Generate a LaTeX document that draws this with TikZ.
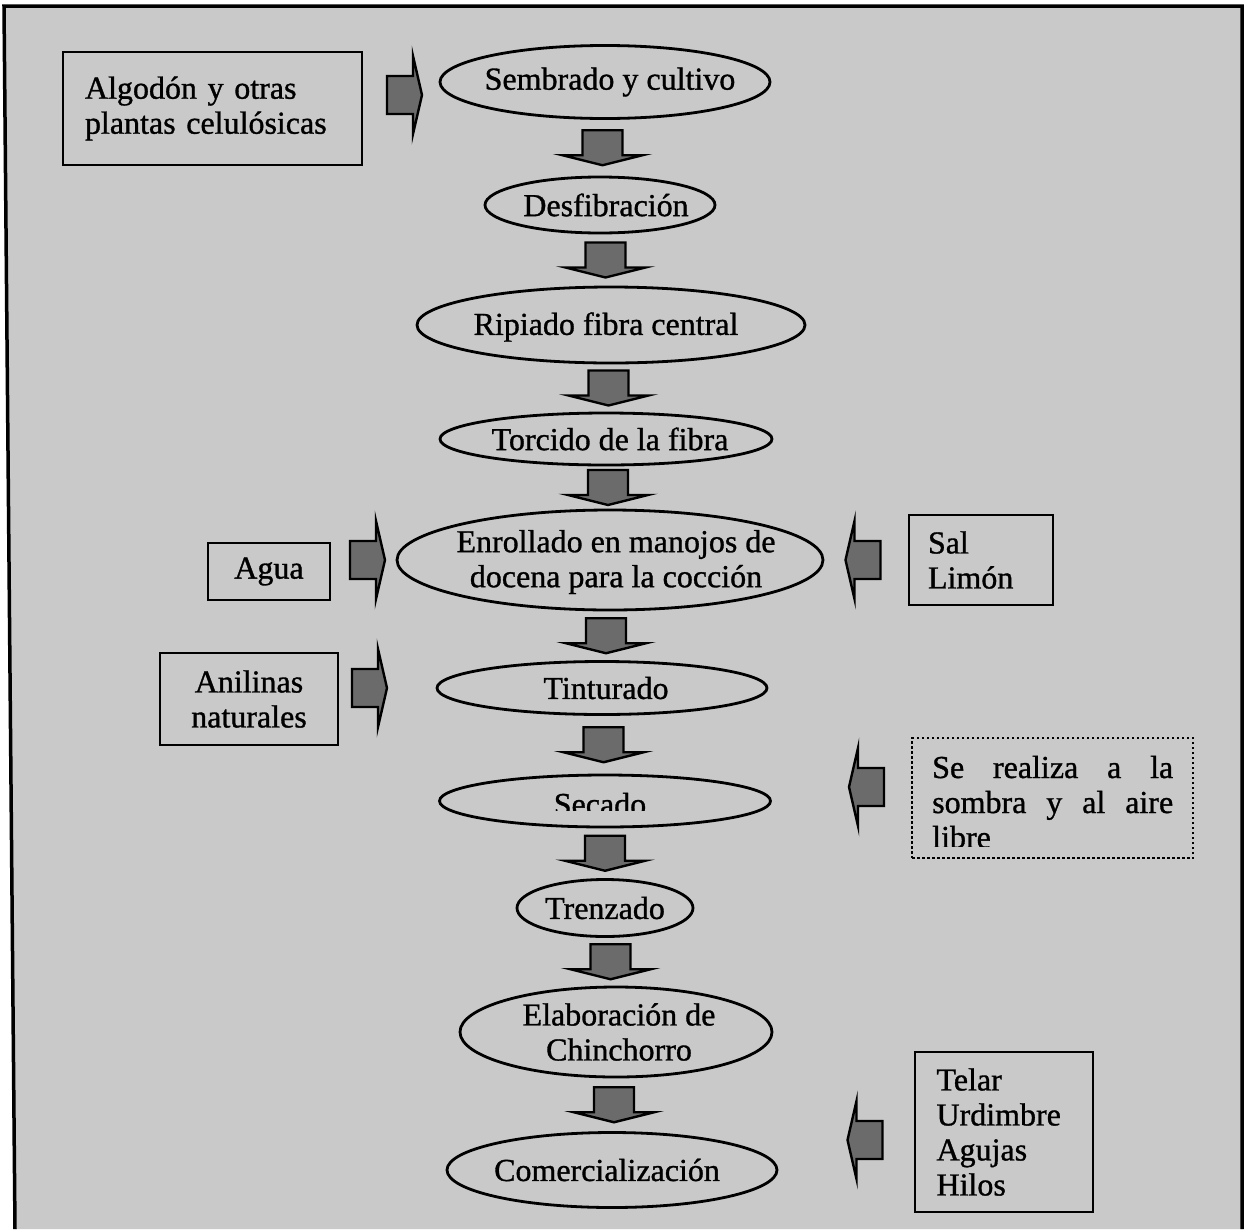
\documentclass[tikz,border=0pt]{standalone}
\usepackage{fontspec}
\setmainfont{Liberation Serif}[FakeBold=1]
\usetikzlibrary{calc,shapes.geometric}
\definecolor{paper}{gray}{0.79}
\definecolor{shaft}{gray}{0.42}
\begin{document}
\begin{tikzpicture}[x=1pt,y=-1pt,
  font=\fontsize{32}{35}\selectfont,
  frame/.style={line width=3.5pt},
  proc/.style={draw, ellipse, line width=2.8pt, inner sep=0pt},
  inbox/.style={draw, rectangle, line width=2.8pt, inner sep=0pt},
  notebox/.style={draw, rectangle, line width=2.8pt, dash pattern=on 2.5pt off 2.5pt, inner sep=0pt},
  txt/.style={inner sep=0pt, align=center},
  blockarrow/.style={fill=shaft, draw=black, line width=2.4pt, line join=miter},
  downblock/.pic={\filldraw[blockarrow] (-20,-17.5) -- (20,-17.5) -- (20,7.5) -- (40,7.5) -- (0,17.5) -- (-40,7.5) -- (-20,7.5) -- cycle;},
  rightblock/.pic={\filldraw[blockarrow] (-17.5,-19) -- (8.5,-19) -- (8.5,-39) -- (17.5,0) -- (8.5,39) -- (8.5,19) -- (-17.5,19) -- cycle;},
  leftblock/.pic={\filldraw[blockarrow] (17.5,-19) -- (-8.5,-19) -- (-8.5,-39) -- (-17.5,0) -- (-8.5,39) -- (-8.5,19) -- (17.5,19) -- cycle;}
]
\useasboundingbox (0,0) rectangle (1250,1229);
\fill[white] (0,0) rectangle (1250,1229);

% page frame, open at the bottom
\fill[paper] (4,6) -- (1242,6) -- (1242,1229) -- (15,1229) -- cycle;
\draw[frame] (15,1229) -- (4,6) -- (1242,6) -- (1242,1229);

% main process chain
\node[proc, minimum width=330, minimum height=73] (e1) at (605,82) {};
\node[txt] (t1) at (610,82) {Sembrado y cultivo};
\node[proc, minimum width=230, minimum height=56] (e2) at (600,205) {};
\node[txt] (t2) at (606,205) {Desfibración};
\node[proc, minimum width=388, minimum height=76] (e3) at (611,325) {};
\node[txt] (t3) at (606,327) {Ripiado fibra central};
\node[proc, minimum width=332, minimum height=52] (e4) at (606,439) {};
\node[txt] (t4) at (610,439) {Torcido de la fibra};
\node[proc, minimum width=426, minimum height=100] (e5) at (610,560) {};
\node[txt] (t5) at (616,562) {Enrollado en manojos de\\docena para la cocción};
\node[proc, minimum width=330, minimum height=53] (e6) at (602,688) {};
\node[txt] (t6) at (606,688) {Tinturado};
\node[proc, minimum width=331, minimum height=52] (e7) at (605,801) {};
\begin{scope}
  \clip (430,770) rectangle (780,810);
  \node[anchor=base, inner sep=0pt] (t7) at (600,815) {Secado};
\end{scope}
\node[proc, minimum width=176, minimum height=57] (e8) at (605,908) {};
\node[txt] (t8) at (605,908) {Trenzado};
\node[proc, minimum width=312, minimum height=90] (e9) at (616,1032) {};
\node[txt] (t9) at (619,1032) {Elaboración de\\Chinchorro};
\node[proc, minimum width=330, minimum height=75] (e10) at (612,1170) {};
\node[txt] (t10) at (607,1170) {Comercialización};

% downward block arrows between the steps
\foreach \a/\b in {e1/e2,e2/e3,e3/e4,e4/e5,e5/e6,e6/e7,e7/e8,e8/e9,e9/e10}
  \pic at ($(\a.south)!0.5!(\b.north)$) {downblock};

% inputs
\node[inbox, minimum width=299, minimum height=113, text width=255, align=left] (src) at (212.5,108.5) {Algodón y otras\\plantas celulósicas};
\node[inbox, minimum width=122, minimum height=57] (agua) at (269,571.5) {Agua};
\node[inbox, minimum width=178, minimum height=92, align=center] (anil) at (249,699) {Anilinas\\naturales};
\node[inbox, minimum width=144, minimum height=90, text width=106, align=left] (sal) at (981,560) {Sal\\Limón};
\node[inbox, minimum width=178, minimum height=160, text width=135, align=left] (tools) at (1004,1132) {Telar\\Urdimbre\\Agujas\\Hilos};

% note on the drying step
\node[notebox, minimum width=281, minimum height=120] (note) at (1052.5,798) {};
\begin{scope}
  \clip (912,740) rectangle (1193,846);
  \node[anchor=base west, inner sep=0pt] (n1) at (932,778) {\makebox[241pt][s]{Se realiza a la}};
  \node[anchor=base west, inner sep=0pt] (n2) at (932,813) {\makebox[241pt][s]{sombra y al aire}};
  \node[anchor=base west, inner sep=0pt] (n3) at (932,848) {libre};
\end{scope}

% side block arrows
\pic at (404.5,95) {rightblock};
\pic at (367.5,560) {rightblock};
\pic at (863,560) {leftblock};
\pic at (369.5,688) {rightblock};
\pic at (866.5,787) {leftblock};
\pic at (865,1140) {leftblock};
\end{tikzpicture}
\end{document}
